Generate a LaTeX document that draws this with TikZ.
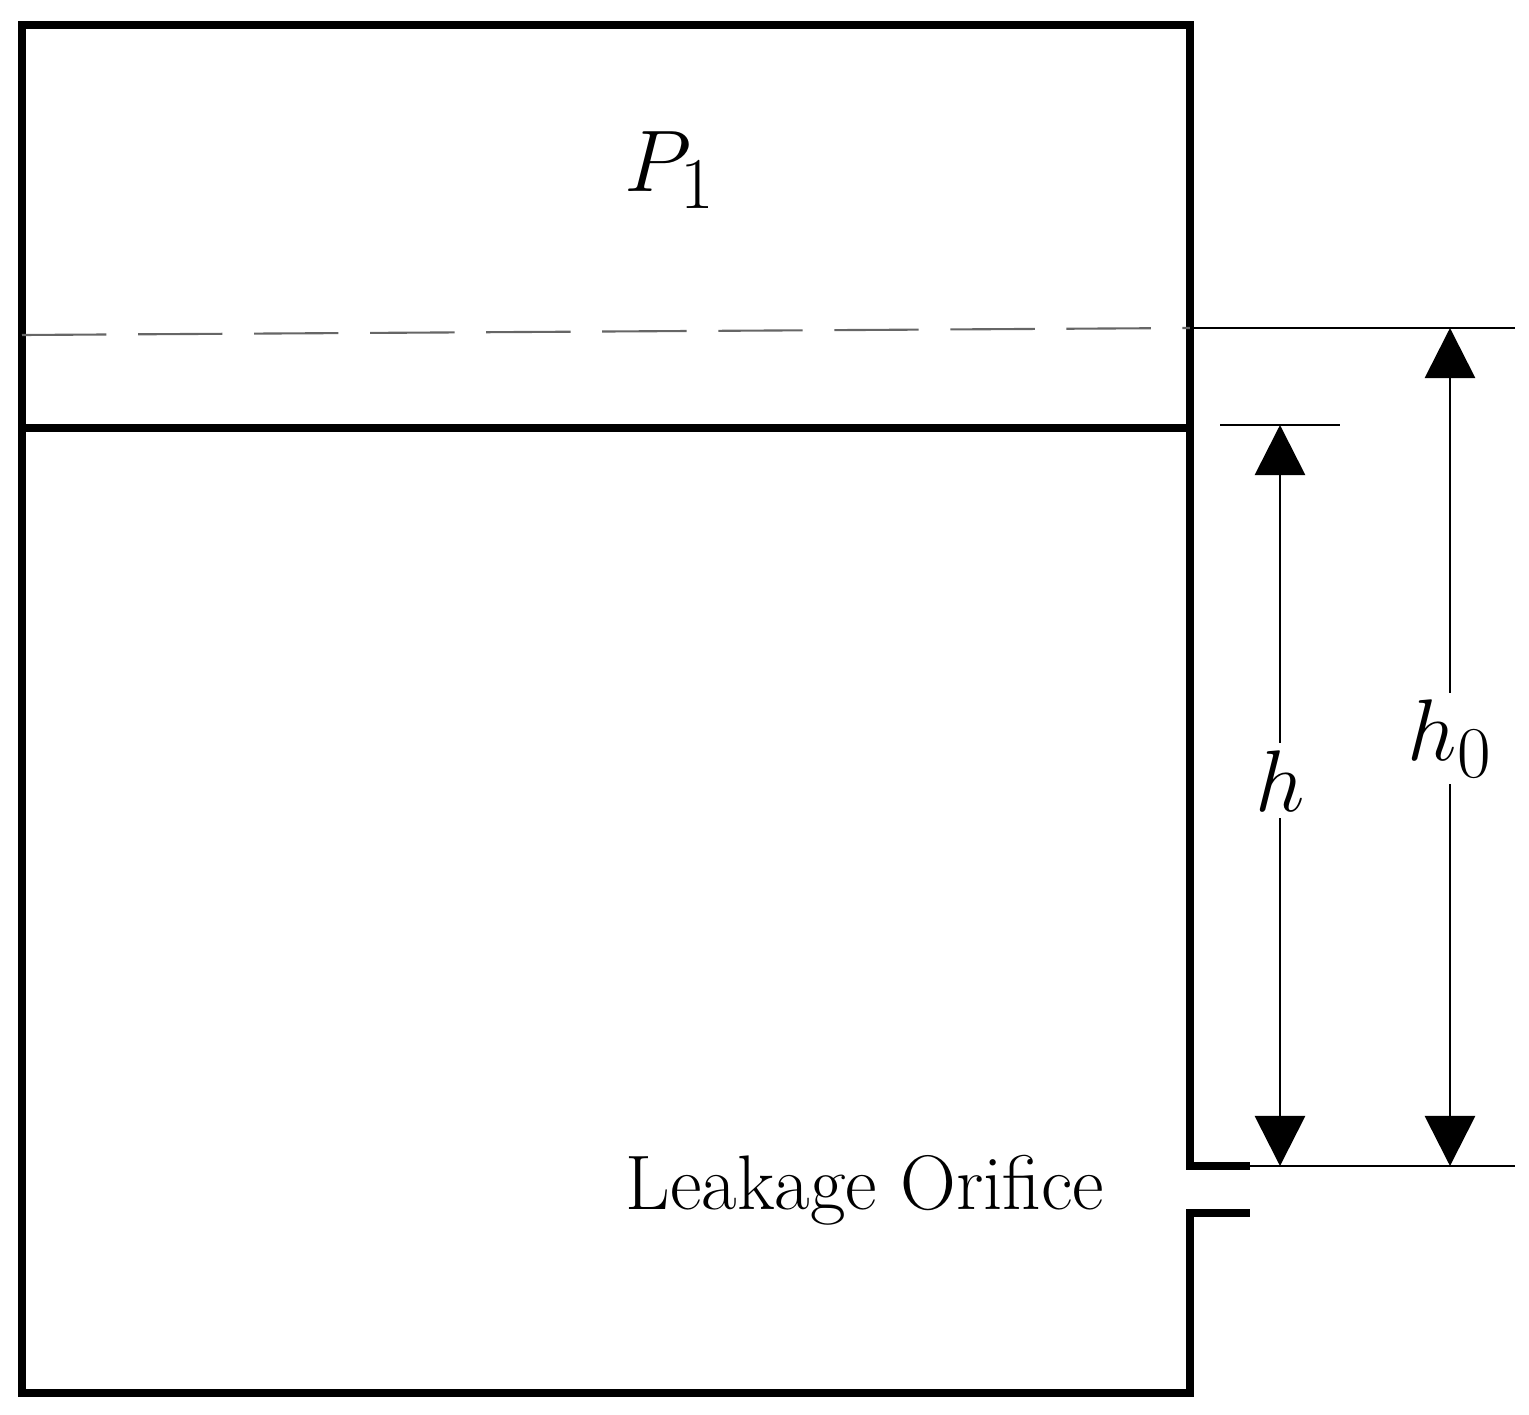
\documentclass[tikz,border=0pt]{standalone}
\usetikzlibrary{arrows.meta}
\begin{document}
\begin{tikzpicture}[x=0.01cm,y=-0.01cm,
    wall/.style={line width=2.2pt},
    thin/.style={line width=0.6pt},
    dim/.style={line width=0.8pt,{Triangle[length=0.5cm,width=0.5cm]}-{Triangle[length=0.5cm,width=0.5cm]}},
    lbl/.style={fill=white,inner sep=2pt,font=\fontsize{30}{34}\selectfont}]
    \useasboundingbox (0,0) rectangle (1529,1415);

    % tank
    \draw[wall] (1250,1166) -- (1190,1166) -- (1190,25) -- (22,25) -- (22,1393) -- (1190,1393) -- (1190,1213) -- (1250,1213);
    \draw[wall] (22,428) -- (1190,428);
    \draw[thin,gray!80!black,dash pattern=on 24pt off 9pt] (22,335) -- (1190,328);

    % reference lines
    \coordinate (t0) at (1450,328);
    \coordinate (t1) at (1280,425);
    \coordinate (b0) at (1450,1166);
    \coordinate (b1) at (1280,1166);
    \draw[thin] (1190,328) -- (1515,328);
    \draw[thin] (1220,425) -- (1340,425);
    \draw[thin] (1250,1166) -- (1515,1166);

    % dimensions
    \draw[dim] (t1) -- (b1) node[lbl,pos=0.48] (h) {$h$};
    \draw[dim] (t0) -- (b0) node[lbl,pos=0.49] (h0) {$h_0$};

    \node[font=\fontsize{30}{34}\selectfont] (p1) at (670,170) {$P_1$};
    \node[font=\fontsize{22}{26}\selectfont] (orifice) at (865,1190) {Leakage Orifice};
\end{tikzpicture}
\end{document}
